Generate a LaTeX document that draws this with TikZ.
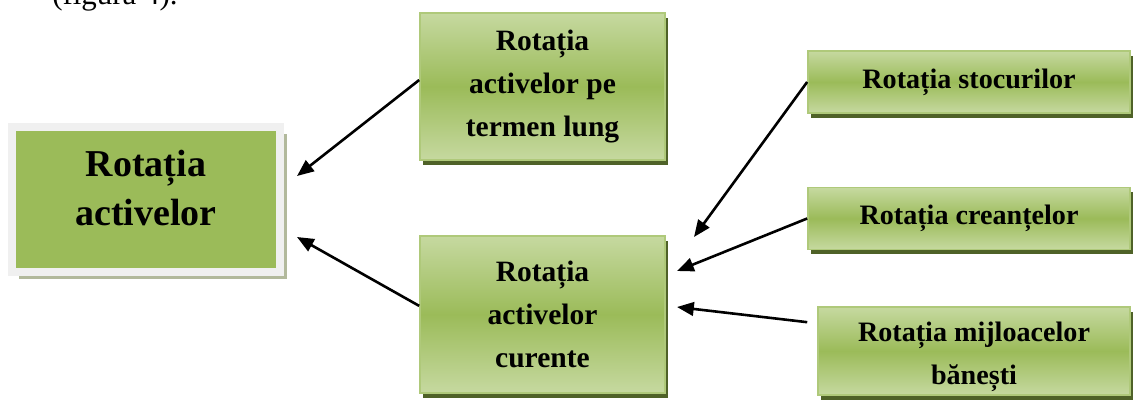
\documentclass[tikz,border=0pt]{standalone}
\usepackage{fontspec}
\setmainfont{Liberation Serif}
\usetikzlibrary{arrows.meta,shadows}
\definecolor{leafgreen}{HTML}{9BBB59}
\definecolor{palegreen}{HTML}{C6D9A0}
\definecolor{darkolive}{HTML}{4F6228}
\definecolor{framegray}{HTML}{F0F0F0}
\definecolor{shadowgray}{HTML}{B2B99C}
\begin{document}
\begin{tikzpicture}[x=0.025cm,y=-0.025cm,
    big node/.style={rectangle,fill=leafgreen,draw=framegray,line width=0.2cm,
        minimum width=6.7cm,minimum height=3.625cm,inner sep=0pt,
        drop shadow={shadow xshift=0.18cm,shadow yshift=-0.18cm,fill=shadowgray,opacity=1}},
    green node/.style={rectangle,top color=palegreen,bottom color=palegreen,middle color=leafgreen,
        draw=leafgreen!80!white,line width=0.04cm,inner sep=0pt,align=center,
        drop shadow={shadow xshift=0.07cm,shadow yshift=-0.12cm,fill=darkolive,opacity=1}},
    mid node/.style={green node,minimum width=6.125cm,font=\bfseries\fontsize{21}{30.5}\selectfont},
    side node/.style={green node,minimum width=8.05cm,minimum height=1.55cm,
        font=\bfseries\fontsize{20}{30}\selectfont},
    box text/.style={inner sep=0pt,align=center},
    link/.style={line width=0.065cm,-{Triangle[length=0.42cm,width=0.34cm]}}
  ]
   \useasboundingbox (0,0) rectangle (1133,401);
   % text of the page above the figure
   \node[anchor=base west,inner sep=0pt,font=\fontsize{22}{26}\selectfont] (fig) at (52,4) {(figura 4).};
   \node[big node] (act) at (146,199.5) {};
   \node[box text,font=\bfseries\fontsize{27}{34.5}\selectfont] (acttext) at (146,188) {Rotația\\activelor};
   \node[mid node,minimum height=3.675cm] (lung) at (542.5,86.5) {Rotația\\activelor pe\\termen lung};
   \node[mid node,minimum height=3.925cm] (cur) at (542.5,314.5) {Rotația\\activelor\\curente};
   \node[side node] (stoc) at (969,82) {Rotația stocurilor\rule[-0.1cm]{0pt}{0.1cm}};
   \node[side node] (crea) at (969,218.5) {Rotația creanțelor\rule[-0.1cm]{0pt}{0.1cm}};
   \node[side node,minimum width=7.8cm,minimum height=2.2cm] (mij) at (974,351) {};
   \node[box text,font=\bfseries\fontsize{20}{30.5}\selectfont] (mijtext) at (974,357) {Rotația mijloacelor\\bănești};
   % arrow tips stop short of the boxes
   \coordinate (t1) at (297,176);
   \coordinate (t2) at (297,237);
   \coordinate (t3) at (694,237);
   \coordinate (t4) at (677,271);
   \coordinate (t5) at (677,307);
   \path[link]
     (lung.177) edge (t1)
     (cur.176) edge (t2)
     (stoc.west) edge (t3)
     (crea.west) edge (t4)
     (mij.170) edge[shorten <=0.25cm] (t5);
\end{tikzpicture}
\end{document}
